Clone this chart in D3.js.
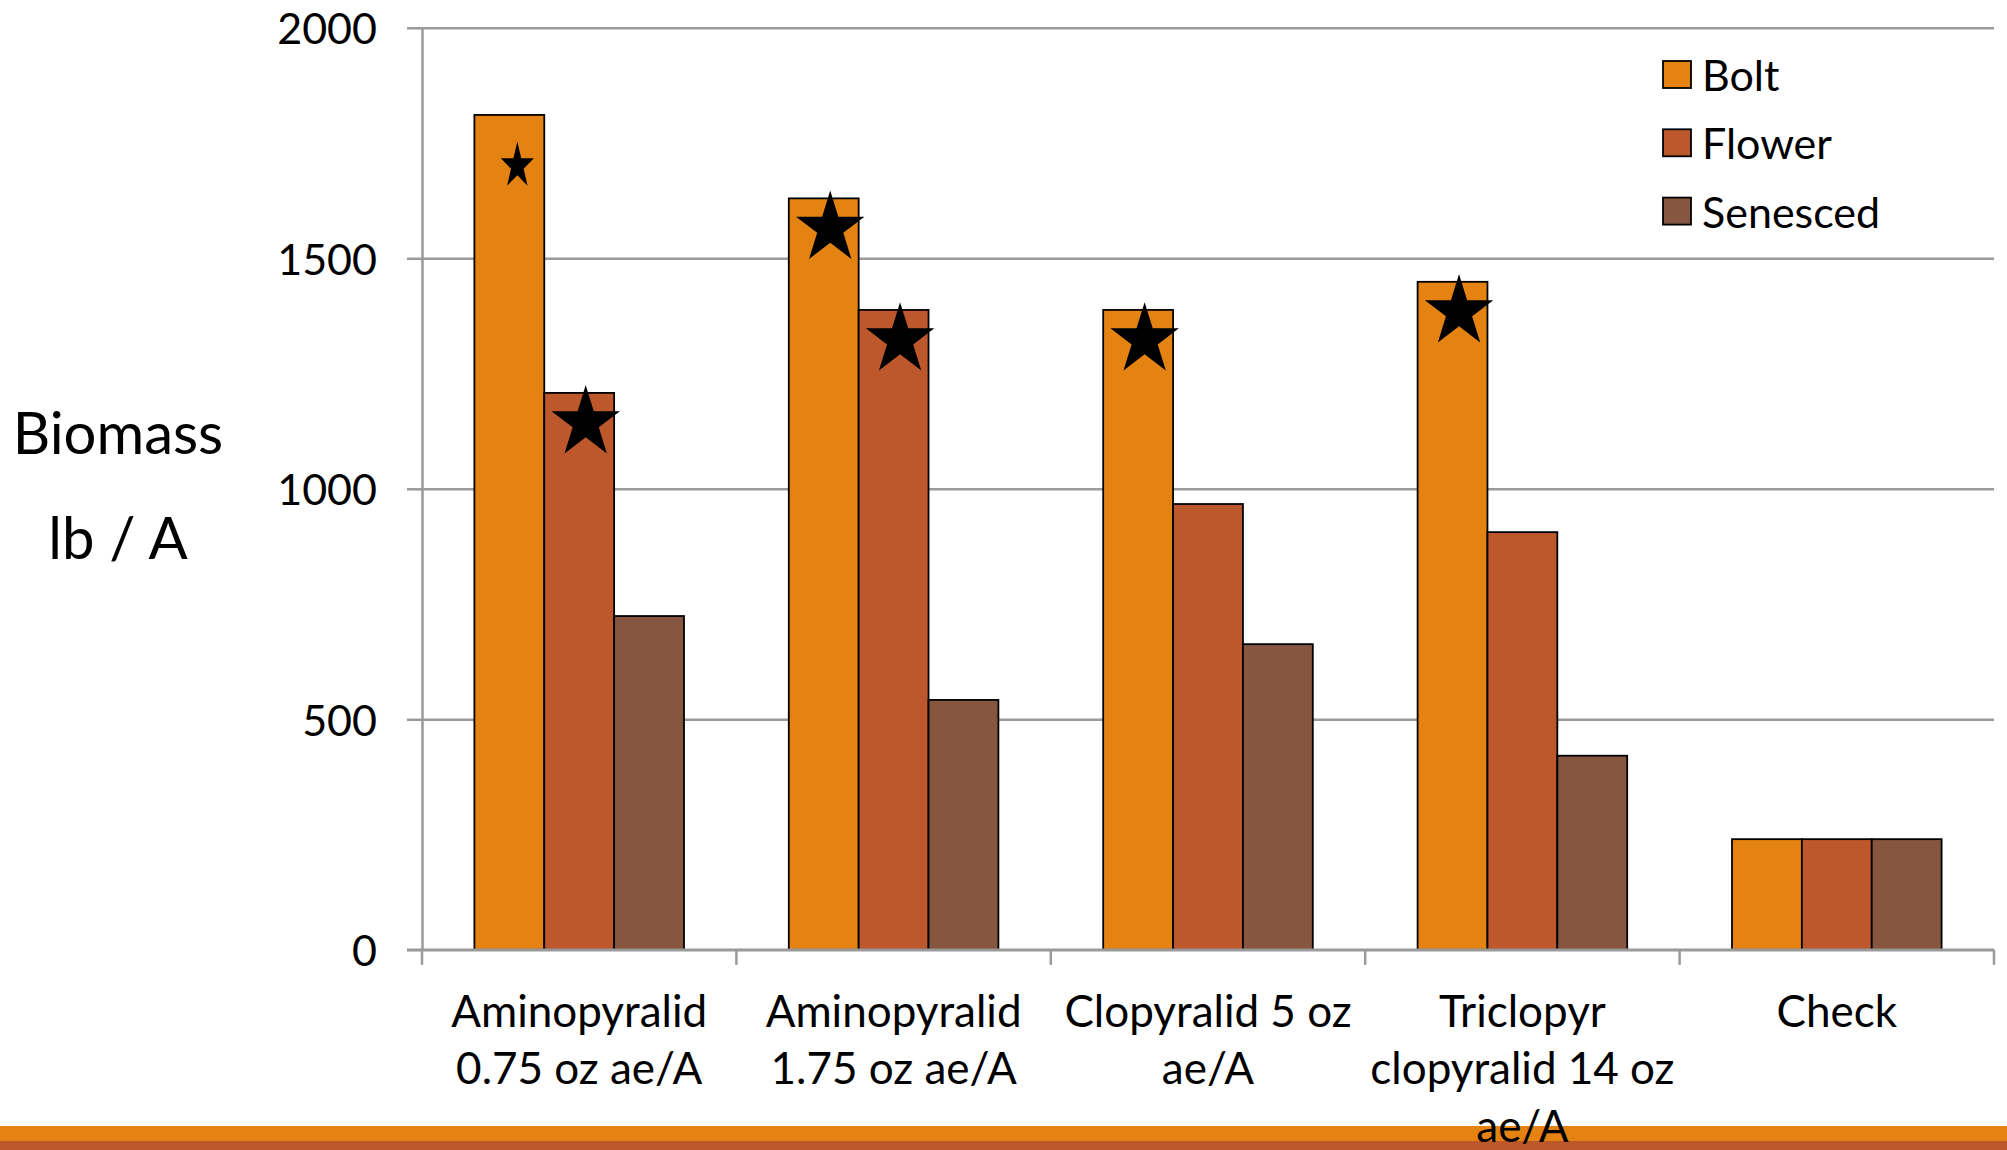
<!DOCTYPE html>
<html>
<head>
<meta charset="utf-8">
<script src="https://cdn.jsdelivr.net/npm/d3@7"></script>
<style>
  html, body { margin: 0; padding: 0; background: #ffffff; }
  svg { display: block; }
  text { font-family: Lato, "Open Sans", sans-serif; fill: #000; }
</style>
</head>
<body>
<svg id="chart" width="2007" height="1150"></svg>
<script>
// Treatments (x categories) with their wrapped label lines
const categories = [
  "Aminopyralid 0.75 oz ae/A",
  "Aminopyralid 1.75 oz ae/A",
  "Clopyralid 5 oz ae/A",
  "Triclopyr clopyralid 14 oz ae/A",
  "Check"
];
const categoryLines = [
  ["Aminopyralid", "0.75 oz ae/A"],
  ["Aminopyralid", "1.75 oz ae/A"],
  ["Clopyralid 5 oz", "ae/A"],
  ["Triclopyr", "clopyralid 14 oz", "ae/A"],
  ["Check"]
];

// Growth stage at treatment
const series = ["Bolt", "Flower", "Senesced"];

// Biomass, lb / A
const boltValues     = [1811, 1630, 1388, 1449, 240];
const flowerValues   = [1208, 1388,  967,  906, 240];
const senescedValues = [ 724,  542,  663,  421, 240];

// Y axis ticks
const yTicks = [0, 500, 1000, 1500, 2000];
const yTitle = ["Biomass", "lb / A"];

// Bars flagged with a star
const majorStars = [
  ["Aminopyralid 0.75 oz ae/A", "Flower"],
  ["Aminopyralid 1.75 oz ae/A", "Bolt"],
  ["Aminopyralid 1.75 oz ae/A", "Flower"],
  ["Clopyralid 5 oz ae/A", "Bolt"],
  ["Triclopyr clopyralid 14 oz ae/A", "Bolt"]
];
const minorStars = [
  ["Aminopyralid 0.75 oz ae/A", "Bolt"]
];

const colors = { Bolt: "#E48312", Flower: "#BD582C", Senesced: "#865640" };
const valuesBySeries = { Bolt: boltValues, Flower: flowerValues, Senesced: senescedValues };

const rows = categories.map((c, i) => ({
  category: c,
  lines: categoryLines[i],
  values: series.map(s => ({ series: s, value: valuesBySeries[s][i] }))
}));
const valueOf = (cat, s) => valuesBySeries[s][categories.indexOf(cat)];

const svg = d3.select("#chart");

const plot = { left: 422, right: 1994, top: 27.8, bottom: 949.8 };

const x0 = d3.scaleBand().domain(categories).range([plot.left, plot.right]).paddingInner(0).paddingOuter(0);
const x1 = d3.scaleBand().domain(series).range([0, x0.bandwidth()]).paddingInner(0).paddingOuter(0.75);
const y = d3.scaleLinear().domain([0, 2000]).range([plot.bottom, plot.top]);

const gridColor = "#9a9a9a";

// Decorative bands along the bottom edge
svg.append("rect").attr("x", 0).attr("y", 1126).attr("width", 2007).attr("height", 15).attr("fill", "#E48312");
svg.append("rect").attr("x", 0).attr("y", 1141).attr("width", 2007).attr("height", 9).attr("fill", "#BD582C");

// Horizontal gridlines with left tick marks
const yAxis = d3.axisLeft(y).tickValues(yTicks).tickSize(15).tickSizeOuter(0).tickFormat(d3.format("d")).tickPadding(0);
const gy = svg.append("g").attr("transform", `translate(${plot.left},0)`).call(yAxis);
gy.select(".domain").attr("stroke", gridColor).attr("stroke-width", 2.5);
gy.selectAll(".tick line").attr("stroke", gridColor).attr("stroke-width", 2.5);
gy.selectAll(".tick text").remove();
gy.selectAll(".tick").append("line")
  .attr("x1", 0).attr("x2", plot.right - plot.left)
  .attr("stroke", gridColor).attr("stroke-width", 2.5);

// Y tick labels
svg.append("g").selectAll("text").data(yTicks).join("text")
  .attr("x", 377).attr("y", d => y(d))
  .attr("text-anchor", "end").attr("dominant-baseline", "central")
  .attr("font-size", 43).text(d => d);

// Bars
const groups = svg.append("g").selectAll("g").data(rows).join("g")
  .attr("transform", d => `translate(${x0(d.category)},0)`);
groups.selectAll("rect").data(d => d.values).join("rect")
  .attr("x", d => x1(d.series))
  .attr("y", d => y(d.value))
  .attr("width", x1.bandwidth())
  .attr("height", d => y(0) - y(d.value))
  .attr("fill", d => colors[d.series])
  .attr("stroke", "#000").attr("stroke-width", 1.8);

// Category axis along the baseline
const xAxis = d3.axisBottom(x0).tickSize(0).tickFormat("");
const gx = svg.append("g").attr("transform", `translate(0,${plot.bottom})`).call(xAxis);
gx.select(".domain").attr("stroke", gridColor).attr("stroke-width", 2.5).attr("d", `M${plot.left - 15},0H${plot.right}`);
gx.selectAll(".tick").remove();
const boundaries = categories.map(c => x0(c)).concat([plot.right]);
gx.selectAll("line.sep").data(boundaries).join("line").attr("class", "sep")
  .attr("x1", d => d).attr("x2", d => d).attr("y1", 0).attr("y2", 15)
  .attr("stroke", gridColor).attr("stroke-width", 2.5);

// Category labels
const lineGap = 57.5;
svg.append("g").selectAll("text").data(rows).join("text")
  .attr("text-anchor", "middle").attr("font-size", 44)
  .attr("transform", d => `translate(${x0(d.category) + x0.bandwidth() / 2},${plot.bottom + 77})`)
  .selectAll("tspan").data(d => d.lines).join("tspan")
  .attr("x", 0).attr("y", (d, i) => i * lineGap).text(d => d);

// Stars over flagged bars
const starSym = d3.symbol().type(d3.symbolStar);
const starArea = r => (r * r) / 0.8908130915292852;
const barCenter = (cat, s) => x0(cat) + x1(s) + x1.bandwidth() / 2;
svg.append("g").selectAll("path.major").data(majorStars).join("path").attr("class", "major")
  .attr("d", starSym.size(starArea(36))())
  .attr("transform", d => `translate(${barCenter(d[0], d[1]) + 6.5},${y(valueOf(d[0], d[1])) + 30}) scale(1,1.05)`)
  .attr("fill", "#000");
svg.append("g").selectAll("path.minor").data(minorStars).join("path").attr("class", "minor")
  .attr("d", starSym.size(starArea(17.4))())
  .attr("transform", d => `translate(${barCenter(d[0], d[1]) + 8},${y(valueOf(d[0], d[1])) + 51}) scale(1,1.41)`)
  .attr("fill", "#000");

// Y axis title
svg.append("g").selectAll("text").data(yTitle).join("text")
  .attr("x", 118).attr("y", (d, i) => 454 + i * 105)
  .attr("text-anchor", "middle").attr("font-size", 58).text(d => d);

// Legend
const legend = svg.append("g").selectAll("g").data(series).join("g")
  .attr("transform", (d, i) => `translate(1663,${61 + i * 68.3})`);
legend.append("rect").attr("width", 28).attr("height", 27)
  .attr("fill", d => colors[d]).attr("stroke", "#000").attr("stroke-width", 1.8);
legend.append("text").attr("x", 39).attr("y", 13.5).attr("dominant-baseline", "central")
  .attr("font-size", 43).text(d => d);
</script>
</body>
</html>
